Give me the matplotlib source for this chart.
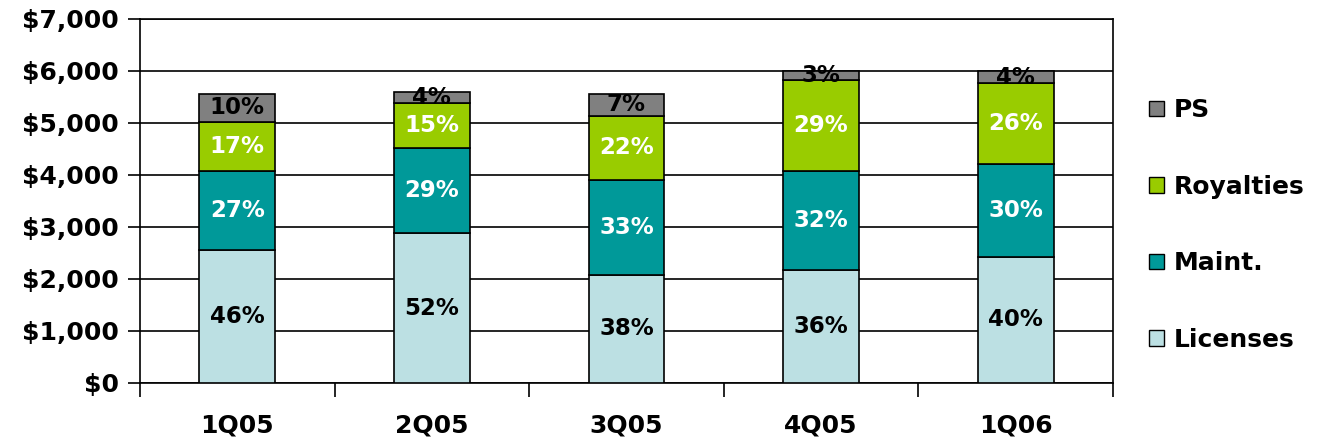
import matplotlib.pyplot as plt
import numpy as np
from matplotlib.patches import Patch

quarters = ["1Q05", "2Q05", "3Q05", "4Q05", "1Q06"]
licenses = [2560, 2880, 2080, 2170, 2430]
maint = [1520, 1645, 1825, 1905, 1775]
royalties = [935, 855, 1230, 1750, 1555]
ps = [550, 210, 425, 180, 245]

lic_pct = ["46%", "52%", "38%", "36%", "40%"]
maint_pct = ["27%", "29%", "33%", "32%", "30%"]
roy_pct = ["17%", "15%", "22%", "29%", "26%"]
ps_pct = ["10%", "4%", "7%", "3%", "4%"]

series = [
    ("Licenses", licenses, lic_pct, "#BCE0E3", "black"),
    ("Maint.", maint, maint_pct, "#009999", "white"),
    ("Royalties", royalties, roy_pct, "#99CC00", "white"),
    ("PS", ps, ps_pct, "#808080", "black"),
]

plt.rcParams["font.family"] = "DejaVu Sans"
plt.rcParams["font.weight"] = "bold"

fig = plt.figure(figsize=(13.19, 4.43), dpi=100)
ax = fig.add_axes([140 / 1319, 1 - 383 / 443, (1113 - 140) / 1319, (383 - 19) / 443])

x = np.arange(len(quarters))
bottom = np.zeros(len(quarters))
handles = []
for name, vals, labels, color, tcolor in series:
    vals = np.array(vals, dtype=float)
    ax.bar(x, vals, width=0.39, bottom=bottom, color=color, edgecolor="black",
           linewidth=1.2, zorder=3)
    for xi, b, v, lab in zip(x, bottom, vals, labels):
        ax.text(xi, b + v / 2, lab, ha="center", va="center", color=tcolor,
                fontsize=16.5, fontweight="bold", zorder=4)
    bottom += vals
    handles.append(Patch(facecolor=color, edgecolor="black", label=name))

ax.set_xlim(-0.5, len(quarters) - 0.5)
ax.set_ylim(0, 7000)
ax.set_yticks(range(0, 7001, 1000))
ax.set_yticklabels([f"${v:,}" for v in range(0, 7001, 1000)], fontsize=18, fontweight="bold")
ax.yaxis.grid(True, color="black", linewidth=1.2, zorder=0)
ax.set_axisbelow(True)

ax.set_xticks(x)
ax.set_xticklabels(quarters, fontsize=18, fontweight="bold")
ax.set_xticks(np.arange(-0.5, len(quarters), 1), minor=True)
ax.tick_params(axis="x", which="major", length=0, pad=22)
ax.tick_params(axis="x", which="minor", length=10, width=1.2, direction="out")
ax.tick_params(axis="y", length=9, width=1.2, direction="out", pad=6)

for s in ["left", "bottom", "right", "top"]:
    ax.spines[s].set_color("black")
    ax.spines[s].set_linewidth(1.2)

leg = fig.legend(handles=handles[::-1], loc="center left",
                 bbox_to_anchor=(1149 / 1319, 1 - 225 / 443),
                 frameon=False, handlelength=0.6, handleheight=0.6,
                 handletextpad=0.4, labelspacing=2.1, borderaxespad=0,
                 borderpad=0, prop={"weight": "bold", "size": 18})

fig.savefig("out.png", dpi=100)
